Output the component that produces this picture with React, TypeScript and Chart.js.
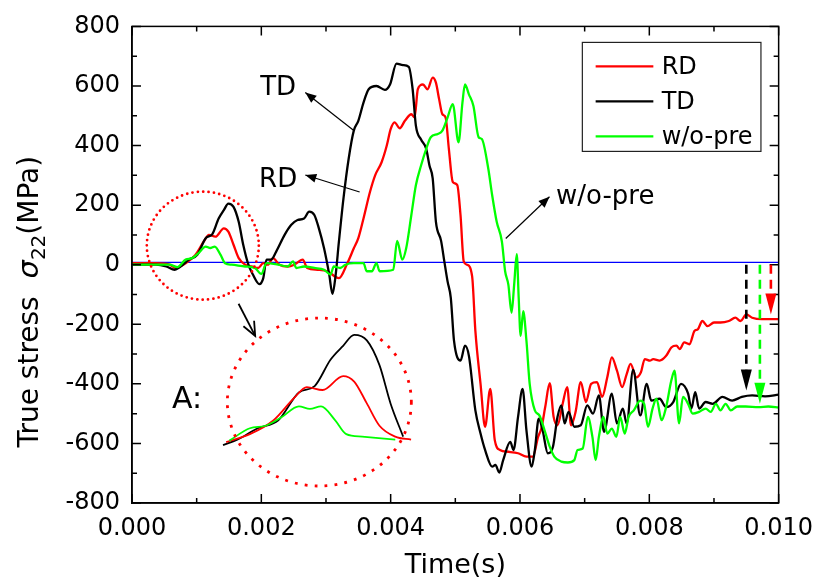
import React, { useEffect, useRef } from 'react';
import { Chart, registerables } from 'chart.js';

Chart.register(...registerables);

const FONT = '"DejaVu Sans", "Liberation Sans", sans-serif';

// Axis ranges / ticks
const TIME_MIN = 0;
const TIME_MAX = 0.01;
const TIME_STEP = 0.002;
const STRESS_MIN = -800;
const STRESS_MAX = 800;
const STRESS_STEP = 200;

const seriesLabels = ['RD', 'TD', 'w/o-pre'];
const seriesColors = ['#ff0000', '#000000', '#00ff00'];

// RD
const rdTimeMs = [0, 0.37, 0.58, 0.68, 0.83, 0.98, 1.11, 1.19, 1.29, 1.42, 1.49, 1.57, 1.65, 1.75, 1.85, 1.95, 2.03, 2.10, 2.18, 2.28, 2.41, 2.51, 2.64, 2.71, 2.87, 3.02, 3.20, 3.33, 3.43, 3.50, 3.58, 3.68, 3.76, 3.86, 3.94, 4.00, 4.06, 4.14, 4.22, 4.32, 4.37, 4.42, 4.50, 4.57, 4.65, 4.70, 4.75, 4.80, 4.85, 4.90, 4.96, 5.03, 5.08, 5.13, 5.18, 5.26, 5.31, 5.39, 5.46, 5.54, 5.61, 5.69, 5.82, 5.97, 6.10, 6.20, 6.28, 6.33, 6.39, 6.46, 6.52, 6.58, 6.66, 6.73, 6.79, 6.86, 6.94, 7.02, 7.10, 7.19, 7.27, 7.35, 7.42, 7.50, 7.58, 7.65, 7.71, 7.80, 7.87, 7.93, 8.01, 8.06, 8.16, 8.26, 8.34, 8.42, 8.47, 8.54, 8.62, 8.70, 8.75, 8.82, 8.90, 9.00, 9.10, 9.23, 9.33, 9.41, 9.50, 9.59, 9.74, 10.0];
const rdStress = [5, 5, 0, -11, 5, 33, 78, 100, 94, 122, 111, 67, 22, 0, -6, -11, 5, 0, 22, 0, -6, 0, 17, -11, -17, -22, -45, 5, 55, 89, 155, 244, 300, 344, 400, 455, 478, 458, 483, 505, 494, 589, 605, 589, 628, 611, 555, 505, 494, 389, 278, 267, 167, 11, 0, -39, -222, -400, -544, -417, -589, -622, -628, -633, -644, -644, -578, -550, -478, -398, -511, -539, -467, -411, -539, -494, -394, -461, -400, -394, -444, -378, -311, -356, -411, -367, -333, -378, -361, -317, -322, -317, -322, -306, -278, -272, -283, -261, -267, -222, -217, -189, -206, -194, -194, -189, -178, -189, -167, -178, -183, -183];

// TD
const tdTimeMs = [0, 0.37, 0.53, 0.66, 0.75, 0.88, 1.01, 1.14, 1.24, 1.34, 1.42, 1.49, 1.57, 1.65, 1.72, 1.80, 1.87, 1.97, 2.03, 2.08, 2.15, 2.23, 2.36, 2.46, 2.56, 2.66, 2.74, 2.82, 2.89, 2.97, 3.05, 3.10, 3.15, 3.20, 3.27, 3.35, 3.43, 3.50, 3.58, 3.66, 3.78, 3.91, 3.99, 4.09, 4.19, 4.28, 4.34, 4.39, 4.47, 4.55, 4.60, 4.65, 4.70, 4.78, 4.83, 4.88, 4.93, 4.98, 5.08, 5.15, 5.21, 5.31, 5.39, 5.46, 5.57, 5.62, 5.68, 5.74, 5.85, 5.90, 5.97, 6.04, 6.10, 6.18, 6.23, 6.29, 6.35, 6.43, 6.51, 6.58, 6.64, 6.69, 6.75, 6.84, 6.94, 7.04, 7.13, 7.22, 7.30, 7.42, 7.50, 7.59, 7.65, 7.75, 7.86, 7.96, 8.03, 8.16, 8.26, 8.37, 8.49, 8.60, 8.65, 8.71, 8.77, 8.87, 8.98, 9.13, 9.28, 9.43, 9.59, 9.79, 10.0];
const tdStress = [0, 0, -6, -17, -6, 17, 33, 89, 102, 155, 183, 205, 194, 144, 67, 0, -33, -65, -45, 17, 17, 44, 100, 133, 150, 155, 178, 167, 122, 55, -33, -98, -33, 78, 222, 355, 450, 483, 544, 589, 600, 587, 605, 675, 670, 664, 589, 467, 420, 389, 333, 290, 144, 80, 11, -56, -111, -256, -322, -272, -306, -489, -567, -622, -678, -672, -698, -656, -595, -622, -511, -417, -556, -678, -622, -517, -556, -633, -611, -511, -472, -533, -494, -544, -539, -472, -500, -439, -561, -433, -533, -483, -533, -353, -506, -400, -456, -450, -478, -461, -400, -433, -483, -428, -483, -461, -467, -444, -456, -444, -439, -442, -436];

// w/o-pre
const woTimeMs = [0, 0.42, 0.58, 0.70, 0.83, 0.93, 1.03, 1.14, 1.21, 1.28, 1.37, 1.44, 1.54, 1.75, 1.90, 2.00, 2.08, 2.26, 2.41, 2.49, 2.54, 2.66, 2.82, 2.97, 3.07, 3.12, 3.22, 3.30, 3.43, 3.58, 3.63, 3.71, 3.78, 3.83, 4.04, 4.10, 4.18, 4.24, 4.32, 4.39, 4.47, 4.55, 4.62, 4.73, 4.80, 4.88, 4.96, 5.05, 5.11, 5.15, 5.21, 5.28, 5.36, 5.41, 5.51, 5.57, 5.64, 5.72, 5.77, 5.82, 5.87, 5.91, 5.95, 5.98, 6.01, 6.05, 6.10, 6.15, 6.23, 6.30, 6.38, 6.46, 6.53, 6.64, 6.74, 6.84, 6.89, 6.97, 7.05, 7.12, 7.17, 7.22, 7.29, 7.35, 7.42, 7.49, 7.55, 7.62, 7.68, 7.76, 7.86, 7.92, 7.98, 8.05, 8.11, 8.19, 8.26, 8.34, 8.39, 8.46, 8.52, 8.60, 8.67, 8.77, 8.87, 8.95, 9.03, 9.10, 9.18, 9.26, 9.36, 9.49, 9.69, 9.84, 10.0];
const woStress = [0, 0, 0, -8, 17, 22, 39, 61, 56, 61, 33, 5, 0, -6, -11, -31, 5, 0, -6, 11, -11, -6, -11, -17, -33, -6, -11, 0, 5, 5, -22, -22, 5, -22, -17, 80, 17, 55, 167, 267, 333, 389, 428, 439, 450, 494, 539, 411, 544, 605, 572, 533, 428, 422, 322, 233, 144, 78, -22, -67, -161, -67, 35, -111, -239, -156, -256, -400, -489, -506, -556, -611, -644, -661, -664, -656, -622, -617, -511, -578, -656, -578, -511, -567, -550, -578, -511, -567, -511, -489, -456, -467, -544, -483, -450, -522, -478, -389, -356, -533, -444, -467, -500, -494, -483, -494, -467, -489, -467, -489, -476, -476, -478, -476, -480];

// Reference (zero) line as drawn
const BASELINE_STRESS = 8;

// Inset "A": magnified part of the curves
const INSET_RANGE_MS = [0.6, 1.85];
const INSET_TIME_AXIS = [0.000084, 0.004176];
const INSET_STRESS_AXIS = [-133.6, 826.4];

// Final-value dashed markers (time ms, stress)
const markerTimeMs = [9.5, 9.71, 9.88];
const markerStress = [-422, -467, -167];
const markerColors = ['#000000', '#00ff00', '#ff0000'];

const toPoints = (tMs: number[], s: number[]) => tMs.map((t, i) => ({ x: t / 1000, y: s[i] }));
const insetPoints = (tMs: number[], s: number[]) =>
  toPoints(tMs, s).filter((p) => p.x >= INSET_RANGE_MS[0] / 1000 && p.x <= INSET_RANGE_MS[1] / 1000);

function drawArrowHead(ctx: CanvasRenderingContext2D, x1: number, y1: number, x2: number, y2: number, len: number, half: number, filled: boolean) {
  const a = Math.atan2(y2 - y1, x2 - x1);
  const bx = x2 - len * Math.cos(a);
  const by = y2 - len * Math.sin(a);
  const nx = -Math.sin(a) * half;
  const ny = Math.cos(a) * half;
  ctx.beginPath();
  if (filled) {
    ctx.moveTo(x2, y2);
    ctx.lineTo(bx + nx, by + ny);
    ctx.lineTo(bx - nx, by - ny);
    ctx.closePath();
    ctx.fill();
  } else {
    ctx.moveTo(bx + nx, by + ny);
    ctx.lineTo(x2, y2);
    ctx.lineTo(bx - nx, by - ny);
    ctx.stroke();
  }
}

const decorations = {
  id: 'decorations',
  afterDatasetsDraw(chart: any) {
    const { ctx, chartArea: ca } = chart;
    const sx = chart.scales.x;
    const sy = chart.scales.y;
    const px = (tMs: number) => sx.getPixelForValue(tMs / 1000);
    const py = (v: number) => sy.getPixelForValue(v);
    ctx.save();

    // frame
    ctx.strokeStyle = '#000';
    ctx.lineWidth = 1.5;
    ctx.setLineDash([]);
    ctx.strokeRect(ca.left, ca.top, ca.right - ca.left, ca.bottom - ca.top);

    // inward ticks on all four sides
    ctx.beginPath();
    const nx = Math.round((TIME_MAX - TIME_MIN) / (TIME_STEP / 2));
    for (let i = 0; i <= nx; i++) {
      const x = sx.getPixelForValue(TIME_MIN + (i * TIME_STEP) / 2);
      const len = i % 2 === 0 ? 9 : 5;
      ctx.moveTo(x, ca.bottom);
      ctx.lineTo(x, ca.bottom - len);
      ctx.moveTo(x, ca.top);
      ctx.lineTo(x, ca.top + len);
    }
    const ny = Math.round((STRESS_MAX - STRESS_MIN) / (STRESS_STEP / 2));
    for (let i = 0; i <= ny; i++) {
      const y = sy.getPixelForValue(STRESS_MIN + (i * STRESS_STEP) / 2);
      const len = i % 2 === 0 ? 9 : 5;
      ctx.moveTo(ca.left, y);
      ctx.lineTo(ca.left + len, y);
      ctx.moveTo(ca.right, y);
      ctx.lineTo(ca.right - len, y);
    }
    ctx.stroke();

    // dotted circles
    ctx.strokeStyle = '#ff0000';
    ctx.lineCap = 'round';
    ctx.lineWidth = 2.8;
    ctx.setLineDash([0, 5.4]);
    ctx.beginPath();
    ctx.ellipse(px(1.095), py(64), 56, 54, 0, 0, Math.PI * 2);
    ctx.stroke();
    ctx.lineCap = 'butt';
    ctx.lineWidth = 2.8;
    ctx.setLineDash([2.8, 7.2]);
    ctx.beginPath();
    ctx.ellipse(px(2.897), py(-461), 92, 84, 0, 0, Math.PI * 2);
    ctx.stroke();
    ctx.setLineDash([]);

    // annotations
    ctx.strokeStyle = '#000';
    ctx.fillStyle = '#000';
    ctx.lineWidth = 1.2;
    const line = (t1: number, v1: number, t2: number, v2: number, filled: boolean, len: number, half: number) => {
      const x1 = px(t1), y1 = py(v1), x2 = px(t2), y2 = py(v2);
      ctx.beginPath();
      ctx.moveTo(x1, y1);
      ctx.lineTo(x2, y2);
      ctx.stroke();
      drawArrowHead(ctx, x1, y1, x2, y2, len, half, filled);
    };
    line(3.42, 452, 2.68, 578, true, 11, 4.5);
    line(3.52, 244, 2.68, 301, true, 11, 4.5);
    line(5.78, 88, 6.456, 228, true, 11, 4.5);
    ctx.lineWidth = 1.8;
    line(1.648, -131, 1.905, -239, false, 14, 6);

    ctx.font = `26px ${FONT}`;
    ctx.textAlign = 'center';
    ctx.textBaseline = 'middle';
    ctx.fillText('TD', px(2.26), py(594));
    ctx.fillText('RD', px(2.26), py(284));
    ctx.textAlign = 'left';
    ctx.fillText('w/o-pre', px(6.557), py(228));
    ctx.font = `30px ${FONT}`;
    ctx.textAlign = 'center';
    ctx.fillText('A:', px(0.851), py(-456));

    // dashed final-value arrows
    ctx.lineWidth = 2.6;
    markerTimeMs.forEach((t, i) => {
      const x = px(t);
      const y0 = py(0);
      const y1 = py(markerStress[i]);
      ctx.strokeStyle = markerColors[i];
      ctx.fillStyle = markerColors[i];
      ctx.setLineDash([9, 6]);
      ctx.beginPath();
      ctx.moveTo(x, y0);
      ctx.lineTo(x, y1 - 18);
      ctx.stroke();
      ctx.setLineDash([]);
      drawArrowHead(ctx, x, y0, x, y1, 21, 5.5, true);
    });

    // legend
    const lw = 178.6, lh = 109;
    const lx = ca.right - 17.7 - lw;
    const ly = ca.top + 16;
    ctx.setLineDash([]);
    ctx.strokeStyle = '#222';
    ctx.lineWidth = 1.2;
    ctx.strokeRect(lx, ly, lw, lh);
    ctx.font = `24px ${FONT}`;
    ctx.textAlign = 'left';
    ctx.textBaseline = 'middle';
    seriesLabels.forEach((lab, i) => {
      const yy = ly + 24 + i * 35;
      ctx.strokeStyle = seriesColors[i];
      ctx.lineWidth = 2.3;
      ctx.beginPath();
      ctx.moveTo(lx + 13.3, yy);
      ctx.lineTo(lx + 71, yy);
      ctx.stroke();
      ctx.fillStyle = '#000';
      ctx.fillText(lab, lx + 79.3, yy + 1);
    });

    // y-axis title with italic sigma and subscript
    ctx.translate(ca.left - 104, (ca.top + ca.bottom) / 2 + 37);
    ctx.rotate(-Math.PI / 2);
    const parts = [
      { text: 'True stress  ', font: `28px ${FONT}`, dy: 0 },
      { text: 'σ', font: `italic 29px ${FONT}`, dy: 0 },
      { text: '22', font: `20px ${FONT}`, dy: 7 },
      { text: '(MPa)', font: `28px ${FONT}`, dy: 0 },
    ];
    let total = 0;
    parts.forEach((p) => {
      ctx.font = p.font;
      total += ctx.measureText(p.text).width;
    });
    let cx = -total / 2;
    ctx.textAlign = 'left';
    ctx.textBaseline = 'alphabetic';
    ctx.fillStyle = '#000';
    parts.forEach((p) => {
      ctx.font = p.font;
      ctx.fillText(p.text, cx, 10 + p.dy);
      cx += ctx.measureText(p.text).width;
    });
    ctx.restore();
  },
};

export default function App() {
  const canvasRef = useRef<HTMLCanvasElement | null>(null);

  useEffect(() => {
    document.body.style.margin = '0';
    const canvas = canvasRef.current;
    if (!canvas) return;
    const mainWidth = 2.3;
    const insetWidth = 1.8;
    const chart = new Chart(canvas, {
      type: 'line',
      data: {
        datasets: [
          {
            label: 'zero',
            data: [
              { x: TIME_MIN, y: BASELINE_STRESS },
              { x: TIME_MAX, y: BASELINE_STRESS },
            ],
            borderColor: '#0000ff',
            borderWidth: 1.3,
            pointRadius: 0,
            order: 5,
          },
          {
            label: seriesLabels[0],
            data: toPoints(rdTimeMs, rdStress),
            borderColor: seriesColors[0],
            borderWidth: mainWidth,
            pointRadius: 0,
            cubicInterpolationMode: 'monotone',
            order: 3,
          },
          {
            label: seriesLabels[1],
            data: toPoints(tdTimeMs, tdStress),
            borderColor: seriesColors[1],
            borderWidth: mainWidth,
            pointRadius: 0,
            cubicInterpolationMode: 'monotone',
            order: 2,
          },
          {
            label: seriesLabels[2],
            data: toPoints(woTimeMs, woStress),
            borderColor: seriesColors[2],
            borderWidth: mainWidth,
            pointRadius: 0,
            cubicInterpolationMode: 'monotone',
            order: 1,
          },
          {
            label: 'inset w/o-pre',
            data: insetPoints(woTimeMs, woStress),
            borderColor: seriesColors[2],
            borderWidth: insetWidth,
            pointRadius: 0,
            cubicInterpolationMode: 'monotone',
            xAxisID: 'xi',
            yAxisID: 'yi',
            order: 0,
          },
          {
            label: 'inset RD',
            data: insetPoints(rdTimeMs, rdStress),
            borderColor: seriesColors[0],
            borderWidth: insetWidth,
            pointRadius: 0,
            cubicInterpolationMode: 'monotone',
            xAxisID: 'xi',
            yAxisID: 'yi',
            order: 0,
          },
          {
            label: 'inset TD',
            data: insetPoints(tdTimeMs, tdStress),
            borderColor: seriesColors[1],
            borderWidth: insetWidth,
            pointRadius: 0,
            cubicInterpolationMode: 'monotone',
            xAxisID: 'xi',
            yAxisID: 'yi',
            order: 0,
          },
        ],
      },
      options: {
        animation: false,
        responsive: false,
        layout: { padding: { left: 0, top: 23, right: 37, bottom: 0 } },
        plugins: { legend: { display: false }, tooltip: { enabled: false } },
        scales: {
          x: {
            type: 'linear',
            min: TIME_MIN,
            max: TIME_MAX,
            grid: { display: false, drawTicks: false },
            border: { display: true, color: '#000', width: 1.5 },
            ticks: {
              stepSize: TIME_STEP,
              autoSkip: false,
              maxRotation: 0,
              padding: 11,
              color: '#000',
              font: { family: FONT, size: 24 },
              callback: (v: any) => Number(v).toFixed(3),
            },
            title: {
              display: true,
              text: 'Time(s)',
              color: '#000',
              font: { family: FONT, size: 27 },
              padding: { top: 4, bottom: 4 },
            },
            afterFit: (s: any) => {
              s.height = 83;
            },
          },
          y: {
            type: 'linear',
            min: STRESS_MIN,
            max: STRESS_MAX,
            grid: { display: false, drawTicks: false },
            border: { display: true, color: '#000', width: 1.5 },
            ticks: {
              stepSize: STRESS_STEP,
              padding: 12,
              color: '#000',
              font: { family: FONT, size: 24 },
            },
            afterFit: (s: any) => {
              s.width = 132;
            },
          },
          xi: { type: 'linear', display: false, min: INSET_TIME_AXIS[0], max: INSET_TIME_AXIS[1] },
          yi: { type: 'linear', display: false, min: INSET_STRESS_AXIS[0], max: INSET_STRESS_AXIS[1] },
        },
      },
      plugins: [decorations],
    } as any);
    return () => chart.destroy();
  }, []);

  return (
    <div style={{ width: 824, height: 586, background: '#fff' }}>
      <canvas ref={canvasRef} width={824} height={586} style={{ display: 'block' }} />
    </div>
  );
}
